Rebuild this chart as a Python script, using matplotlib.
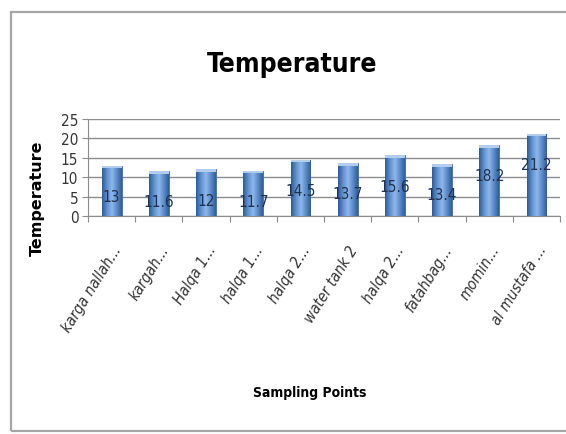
import matplotlib.pyplot as plt
import numpy as np
from matplotlib.colors import LinearSegmentedColormap
from matplotlib.patches import Rectangle

points = ['karga nallah...', 'kargah...', 'Halqa 1...', 'halqa 1...', 'halqa 2...',
          'water tank 2', 'halqa 2...', 'fatahbag...', 'momin...', 'al mustafa ...']
temps = [13, 11.6, 12, 11.7, 14.5, 13.7, 15.6, 13.4, 18.2, 21.2]
yticks = [0, 5, 10, 15, 20, 25]

plt.rcParams['font.family'] = ['DejaVu Sans']
plt.rcParams['font.stretch'] = 'condensed'

fig = plt.figure(figsize=(5.66, 4.35), dpi=100)
ax = fig.add_axes([0.1555, 0.5011, 0.834, 0.223])

# chart area border (right edge runs off the picture)
fig.patches.append(Rectangle((11 / 566, 3 / 435), 1.2, 419 / 435, transform=fig.transFigure,
                             fill=False, edgecolor='#a6a6a6', lw=1.6))

x = np.arange(len(temps))
bars = ax.bar(x, temps, width=0.42, color='#4f81bd', edgecolor='#3c6aa5', lw=0.6, zorder=3)

# shaded bar faces
cmap = LinearSegmentedColormap.from_list('bev', ['#2e5c95', '#5f90cf', '#8fb8ea', '#5d8ccb', '#2f5e98'])
grad = np.linspace(0, 1, 64).reshape(1, -1)
for b in bars:
    x0, w, h = b.get_x(), b.get_width(), b.get_height()
    im = ax.imshow(grad, cmap=cmap, extent=[x0, x0 + w, 0, h], aspect='auto', zorder=3.5)
    im.set_clip_path(b)
    ax.add_patch(Rectangle((x0, h - 0.7), w, 0.7, facecolor='#b3cdee', edgecolor='none', zorder=4))

for xi, v in zip(x, temps):
    ax.annotate(f'{v:g}', (xi, v), xytext=(0, -22), textcoords='offset points',
                ha='center', va='center', fontsize=11, color='#1f3050', zorder=5)

ax.set_xlim(-0.5, len(temps) - 0.5)
ax.set_ylim(0, 25)
ax.set_yticks(yticks)
ax.set_yticklabels([str(t) for t in yticks], fontsize=11, color='#333333')
ax.yaxis.grid(True, color='#8c8c8c', lw=1.0, zorder=0)
ax.set_axisbelow(True)

ax.set_xticks(np.arange(len(temps) + 1) - 0.5, minor=False)
ax.set_xticklabels([])
ax.set_xticks(x, minor=True)
ax.set_xticklabels(points, minor=True, rotation=58, ha='right', va='top', rotation_mode='anchor',
                   fontsize=11, style='italic', color='#333333')
ax.tick_params(axis='x', which='major', length=4, color='#8c8c8c', direction='out')
ax.tick_params(axis='x', which='minor', length=0, pad=19)
ax.tick_params(axis='y', length=4, color='#8c8c8c', pad=3)

for s in ['top', 'right']:
    ax.spines[s].set_visible(False)
for s in ['left', 'bottom']:
    ax.spines[s].set_color('#8c8c8c')

ax.set_ylabel('Temperature', fontstretch='normal', fontweight='bold', fontsize=11.5)
ax.yaxis.set_label_coords(-0.091, 0.196)
fig.text(0.517, 0.85, 'Temperature', ha='center', va='center', fontsize=19, fontweight='bold')
fig.text(0.548, 0.096, 'Sampling Points', ha='center', va='center', fontsize=10, fontweight='bold')

fig.savefig('out.png', dpi=100)
